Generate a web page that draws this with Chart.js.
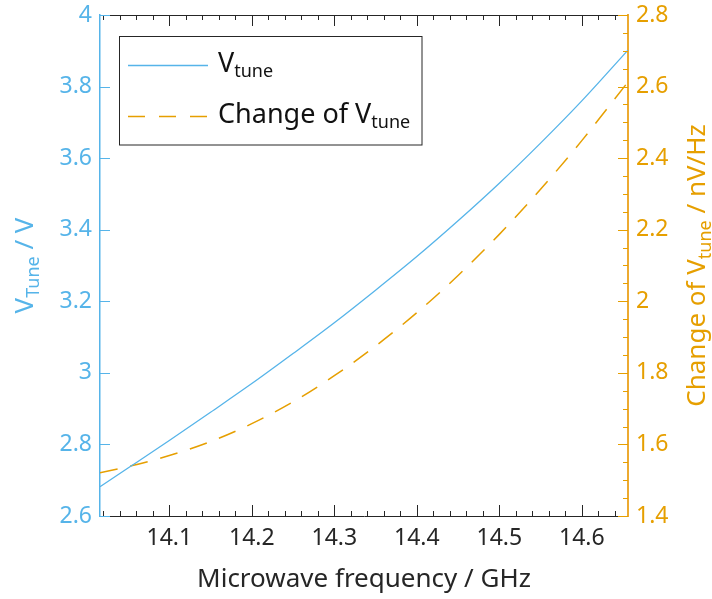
<!DOCTYPE html>
<html>
<head>
<meta charset="utf-8">
<script src="https://cdn.jsdelivr.net/npm/chart.js@4.4.1/dist/chart.umd.min.js"></script>
<style>
    html, body { margin: 0; padding: 0; background: #fff; }
</style>
</head>
<body>
<canvas id="grafico" width="712" height="599"></canvas>
<script>
// dados
const freqVTune = [14.016, 14.05, 14.1, 14.15, 14.2, 14.25, 14.3, 14.35, 14.4, 14.45, 14.5, 14.55, 14.6, 14.656];
const vTune = [2.682, 2.734, 2.811, 2.890, 2.970, 3.054, 3.140, 3.231, 3.325, 3.425, 3.530, 3.642, 3.760, 3.902];

const freqMudanca = [14.016, 14.05, 14.1, 14.15, 14.2, 14.25, 14.3, 14.35, 14.4, 14.45, 14.5, 14.55, 14.6, 14.656];
const mudancaVTune = [1.521, 1.538, 1.569, 1.608, 1.658, 1.719, 1.792, 1.875, 1.968, 2.072, 2.187, 2.313, 2.449, 2.613];

const ticksX = [14.1, 14.2, 14.3, 14.4, 14.5, 14.6];
const ticksEsq = [2.6, 2.8, 3, 3.2, 3.4, 3.6, 3.8, 4];
const ticksDir = [1.4, 1.6, 1.8, 2, 2.2, 2.4, 2.6, 2.8];

const AZUL = "#56B4E9";
const LARANJA = "#E69F00";
const ESCURO = "#262626";
const FONTE = '"Noto Sans", "Open Sans", sans-serif';

// texto com subscrito: partes [texto, sub?]
function larguraPartes(ctx, partes, tam, tamSub) {
    let w = 0;
    partes.forEach(p => {
        ctx.font = (p[1] ? tamSub : tam) + "px " + FONTE;
        w += ctx.measureText(p[0]).width;
    });
    return w;
}

function escreverPartes(ctx, partes, x, y, tam, tamSub, desloc) {
    partes.forEach(p => {
        ctx.font = (p[1] ? tamSub : tam) + "px " + FONTE;
        ctx.fillText(p[0], x, y + (p[1] ? desloc : 0));
        x += ctx.measureText(p[0]).width;
    });
}

// ticks para dentro, eixo do topo, titulos e legenda
const decoracao = {
    id: "decoracao",
    afterDraw(chart) {
        const { ctx, chartArea: a, scales } = chart;
        const sx = scales.x, se = scales.yEsq, sd = scales.yDir;
        const px = v => Math.round(v) + 0.5;
        ctx.save();
        ctx.lineWidth = 1;

        // eixo do topo
        ctx.strokeStyle = ESCURO;
        ctx.beginPath();
        ctx.moveTo(a.left, px(a.top));
        ctx.lineTo(a.right, px(a.top));
        ctx.stroke();

        // ticks x (baixo e topo)
        ctx.beginPath();
        for (let i = 1; i * 0.02 + 14 < 14.656; i++) {
            const v = 14 + i * 0.02;
            if (v < 14.016) continue;
            const maior = ticksX.some(t => Math.abs(t - v) < 1e-6);
            const len = maior ? 11 : 5;
            const x = px(sx.getPixelForValue(v));
            ctx.moveTo(x, a.bottom);
            ctx.lineTo(x, a.bottom - len);
            ctx.moveTo(x, a.top);
            ctx.lineTo(x, a.top + len);
        }
        ctx.stroke();

        // ticks esquerda
        ctx.strokeStyle = AZUL;
        ctx.beginPath();
        ticksEsq.forEach(v => {
            const y = px(se.getPixelForValue(v));
            ctx.moveTo(a.left, y);
            ctx.lineTo(a.left + 10, y);
        });
        ctx.stroke();

        // ticks direita (com menores)
        ctx.strokeStyle = LARANJA;
        ctx.beginPath();
        for (let i = 0; i <= 28; i++) {
            const v = 1.4 + i * 0.05;
            const len = i % 4 === 0 ? 10 : 5;
            const y = px(sd.getPixelForValue(v));
            ctx.moveTo(a.right, y);
            ctx.lineTo(a.right - len, y);
        }
        ctx.stroke();

        // titulo x
        ctx.fillStyle = ESCURO;
        ctx.font = "26px " + FONTE;
        ctx.textAlign = "center";
        ctx.textBaseline = "alphabetic";
        ctx.fillText("Microwave frequency / GHz", (a.left + a.right) / 2, 587);

        ctx.textAlign = "left";
        const meioY = (a.top + a.bottom) / 2;

        // titulo esquerda
        const tituloEsq = [["V", false], ["Tune", true], [" / V", false]];
        ctx.save();
        ctx.translate(33, meioY);
        ctx.rotate(-Math.PI / 2);
        ctx.fillStyle = AZUL;
        let w = larguraPartes(ctx, tituloEsq, 26, 18);
        escreverPartes(ctx, tituloEsq, -w / 2, 0, 26, 18, 6);
        ctx.restore();

        // titulo direita
        const tituloDir = [["Change of V", false], ["tune", true], [" / nV/Hz", false]];
        ctx.save();
        ctx.translate(705, meioY);
        ctx.rotate(-Math.PI / 2);
        ctx.fillStyle = LARANJA;
        w = larguraPartes(ctx, tituloDir, 26, 18);
        escreverPartes(ctx, tituloDir, -w / 2, 0, 26, 18, 6);
        ctx.restore();

        // legenda
        ctx.fillStyle = "#fff";
        ctx.fillRect(119.5, 36.5, 302.5, 108.5);
        ctx.strokeStyle = ESCURO;
        ctx.strokeRect(119.5, 36.5, 302.5, 108.5);

        ctx.lineWidth = 1.3;
        ctx.strokeStyle = AZUL;
        ctx.beginPath();
        ctx.moveTo(128, 65.5);
        ctx.lineTo(208, 65.5);
        ctx.stroke();

        ctx.lineWidth = 1.5;
        ctx.strokeStyle = LARANJA;
        ctx.setLineDash([17, 14]);
        ctx.beginPath();
        ctx.moveTo(128, 116.5);
        ctx.lineTo(208, 116.5);
        ctx.stroke();
        ctx.setLineDash([]);

        ctx.fillStyle = "#111";
        escreverPartes(ctx, [["V", false], ["tune", true]], 218, 72, 27, 18, 5);
        escreverPartes(ctx, [["Change of V", false], ["tune", true]], 218, 123, 27, 18, 5);

        ctx.restore();
    }
};

const ajustarY = largura => s => {
    s.width = largura;
    s.paddingTop = 0;
    s.paddingBottom = 0;
};

new Chart(document.getElementById("grafico"), {
    type: "line",
    data: {
        datasets: [{
            label: "Vtune",
            data: freqVTune.map((f, i) => ({ x: f, y: vTune[i] })),
            yAxisID: "yEsq",
            borderColor: AZUL,
            borderWidth: 1.3,
            pointRadius: 0,
            cubicInterpolationMode: "monotone",
            fill: false
        }, {
            label: "Change of Vtune",
            data: freqMudanca.map((f, i) => ({ x: f, y: mudancaVTune[i] })),
            yAxisID: "yDir",
            borderColor: LARANJA,
            borderWidth: 1.5,
            borderDash: [18, 13],
            pointRadius: 0,
            cubicInterpolationMode: "monotone",
            fill: false
        }]
    },
    options: {
        responsive: false,
        animation: false,
        devicePixelRatio: 1,
        layout: { autoPadding: false, padding: { top: 15, left: 0, right: 0, bottom: 0 } },
        plugins: {
            legend: { display: false },
            tooltip: { enabled: false }
        },
        scales: {
            x: {
                type: "linear",
                position: "bottom",
                min: 14.016,
                max: 14.656,
                afterBuildTicks: s => { s.ticks = ticksX.map(v => ({ value: v })); },
                afterFit: s => { s.height = 83; s.paddingLeft = 0; s.paddingRight = 0; },
                grid: { drawOnChartArea: false, drawTicks: false },
                border: { color: ESCURO, width: 1 },
                ticks: {
                    color: ESCURO,
                    font: { family: FONTE, size: 23 },
                    padding: 9,
                    maxRotation: 0,
                    callback: v => String(v)
                }
            },
            yEsq: {
                type: "linear",
                position: "left",
                min: 2.6,
                max: 4,
                afterBuildTicks: s => { s.ticks = ticksEsq.map(v => ({ value: v })); },
                afterFit: ajustarY(100),
                grid: { drawOnChartArea: false, drawTicks: false },
                border: { color: AZUL, width: 1.5 },
                ticks: {
                    color: AZUL,
                    font: { family: FONTE, size: 23 },
                    padding: 8,
                    callback: v => String(v)
                }
            },
            yDir: {
                type: "linear",
                position: "right",
                min: 1.4,
                max: 2.8,
                afterBuildTicks: s => { s.ticks = ticksDir.map(v => ({ value: v })); },
                afterFit: ajustarY(84),
                grid: { drawOnChartArea: false, drawTicks: false },
                border: { color: "#EDAA30", width: 2 },
                ticks: {
                    color: LARANJA,
                    font: { family: FONTE, size: 23 },
                    padding: 8,
                    callback: v => String(v)
                }
            }
        }
    },
    plugins: [decoracao]
});
</script>
</body>
</html>
